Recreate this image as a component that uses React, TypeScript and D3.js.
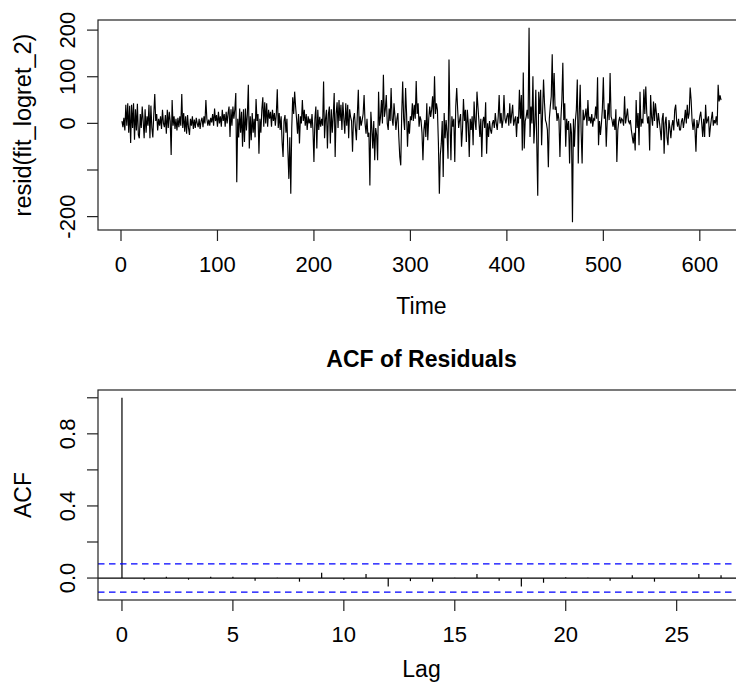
import React from "react";
import * as d3 from "d3";

// residuals of fit_logret_2 (t = 1..622)
const residuals: number[] = [
  5, -8, 12, -15, 40, -5, 43, -20, 38, -42,
  40, -10, 43, -35, 30, -15, 42, -25, -32, 20,
  -10, 36, 5, -32, 30, -20, 15, -5, 40, -32,
  38, -10, -30, 20, 63, 5, 20, -15, 10, -5,
  15, -12, 29, 0, -8, 18, -22, 29, -10, 25,
  5, -68, 50, -5, 15, -12, 10, -15, 12, -8,
  15, -5, 63, -10, 22, -18, 15, -22, 18, -10,
  -25, 10, -5, 15, -12, 8, -10, 12, 0, -8,
  10, -12, 5, 12, -8, 15, 0, 50, 10, -5,
  8, -5, 12, 2, 20, -5, 32, 5, 18, -7,
  25, 0, 15, -7, 29, 5, 20, -7, 25, 0,
  22, 36, -29, 30, -5, 36, 10, 30, 65, -126,
  10, -30, 32, -20, 25, -50, 30, -40, 32, -15,
  20, 83, -54, 15, -36, 22, -20, 10, -30, 52,
  5, 20, -65, 10, -20, 30, 56, -7, 45, 0,
  43, -7, 29, 10, 25, -7, 29, 5, 22, -5,
  20, 73, -10, 22, -14, 15, -40, -72, 5, 18,
  -20, 10, -60, -119, -30, -151, -10, 56, 20, 68,
  36, 10, -22, 20, -43, 15, 0, 50, 5, 29,
  -5, 20, -14, 15, 0, 10, -10, 20, -14, -83,
  10, 36, -54, 29, -14, 14, -7, 10, -5, 90,
  -32, 10, 29, -54, 20, 36, -43, 30, -20, 15,
  65, -72, 20, 45, -10, 50, 5, 40, -14, 45,
  10, -22, 43, -5, 40, -32, 30, 14, 5, -61,
  10, 22, -10, -36, 20, 72, -14, 15, -5, 7,
  20, 61, 0, -22, 10, -29, -20, -133, 25, -10,
  -54, 5, -79, -10, -25, -79, 68, -5, 14, 50,
  0, 104, 14, 30, 61, 0, -14, 32, 5, 76,
  10, -5, 43, 15, -14, 10, 22, -30, -72, -90,
  20, 90, 10, -14, 76, 22, -50, 5, -22, 15,
  7, 43, 5, 40, 10, 91, 20, 43, -7, 15,
  7, -20, -79, -14, 7, -29, 43, -36, 10, 36,
  14, 30, 58, 10, 101, 20, 43, 29, -40, -151,
  -68, -43, 5, -115, 22, -32, 7, -20, -76, 137,
  7, -79, 15, -7, 10, -83, 36, 76, 29, -10,
  7, 20, -50, -14, 52, 5, 29, -40, 29, 0,
  -72, 10, -14, 15, -47, 47, 5, -14, 68, 36,
  5, -29, 10, -72, 5, 14, -10, 45, -65, 0,
  -29, 5, -14, -22, 0, 7, -10, 22, 0, -14,
  14, 61, 0, 22, -10, 7, 61, 10, 0, 15,
  22, -5, 43, 0, 20, 40, -5, 7, 15, -29,
  14, 0, 72, 10, 61, -58, 109, -54, 5, 14,
  29, 10, 205, -29, 36, 0, 101, -43, 0, 72,
  -43, -155, 68, 20, 72, -47, 22, 94, 43, 7,
  0, -14, -94, 10, 36, 58, 148, 30, 108, 29,
  36, 5, 22, 7, -72, 10, 50, 130, 7, 43,
  -50, 10, -14, 5, -86, 0, -22, -212, 10, -50,
  5, 29, 94, -86, 20, 83, -20, -86, 29, 7,
  15, 32, -5, 50, 5, 14, 0, 20, -7, 10,
  7, 36, 10, 99, -47, 5, -25, 0, 32, 99,
  10, 29, -50, 5, 43, 7, 108, 15, 7, -7,
  10, -14, 30, -83, -14, 5, 14, 0, 10, 7,
  -5, 58, 0, 15, 32, 5, 0, 7, -14, -29,
  -43, -20, -58, 50, -10, 22, -47, 68, -7, 10,
  0, 73, 20, 79, 22, 0, 15, -58, 61, 14,
  -5, 47, 5, 43, 22, -10, 22, 5, -14, -36,
  10, 22, -65, 0, 14, -30, -47, 7, -10, -32,
  -5, 7, -15, 29, 40, 5, -7, 10, -14, -14,
  5, 11, -10, 7, 29, 0, 40, 10, 22, 77,
  50, 5, -14, 10, -14, -61, 7, -10, 0, 15,
  25, 0, -29, 10, -29, 40, 0, 7, 15, -29,
  -7, 10, 25, -5, 7, 0, 15, -4, 83, 47, 60, 50,
];

// ACF of residuals, lags 0..27
const acfLags: number[] = d3.range(0, 28);
const acfValues: number[] = [
  1.0, -0.009, 0.007, -0.009, 0.007, 0.007, -0.015, 0.002, -0.02, 0.03,
  -0.009, 0.022, -0.047, -0.017, -0.02, 0.001, 0.022, -0.015, -0.047, -0.026,
  0.005, 0.002, -0.015, 0.015, -0.02, 0.0, 0.022, 0.015,
];

const timeTicks = [0, 100, 200, 300, 400, 500, 600];
const residTicks = [-200, -100, 0, 100, 200];
const residLabels = [-200, 0, 100, 200];
const lagTicks = [0, 5, 10, 15, 20, 25];
const acfTicks = [0, 0.2, 0.4, 0.6, 0.8, 1.0];
const acfLabels = [0, 0.4, 0.8];

const W = 736;
const H = 689;
const FONT = "'Liberation Sans', Arial, Helvetica, sans-serif";
const AX = "#222";

// R style 4% axis expansion
const expand = ([a, b]: number[]) => {
  const d = (b - a) * 0.04;
  return [a - d, b + d];
};

const App = () => {
  const left = 98;
  const right = 745;
  const top1 = 20;
  const bot1 = 230;
  const top2 = 390;
  const bot2 = 600;
  const tick = 11;

  const n = residuals.length;
  const clim = 1.96 / Math.sqrt(n);

  const x1 = d3.scaleLinear().domain(expand([1, n])).range([left, right]);
  const y1 = d3
    .scaleLinear()
    .domain(expand(d3.extent(residuals) as number[]))
    .range([bot1, top1]);

  const line = d3
    .line<number>()
    .x((_, i) => x1(i + 1))
    .y((d) => y1(d));

  const x2 = d3
    .scaleLinear()
    .domain(expand([0, acfLags[acfLags.length - 1]]))
    .range([left, right]);
  const y2 = d3
    .scaleLinear()
    .domain(expand([Math.min(-clim, d3.min(acfValues)!), Math.max(clim, d3.max(acfValues)!)]))
    .range([bot2, top2]);

  const fmt = d3.format(".1f");

  return (
    <div style={{ position: "absolute", left: 0, top: 0 }}>
      <svg width={W} height={H} style={{ display: "block", background: "#fff" }} fontFamily={FONT}>
        <defs>
          <clipPath id="c1">
            <rect x={left} y={top1} width={right - left} height={bot1 - top1} />
          </clipPath>
          <clipPath id="c2">
            <rect x={left} y={top2} width={right - left} height={bot2 - top2} />
          </clipPath>
        </defs>

        {/* ---- residual series ---- */}
        <path d={line(residuals) ?? ""} fill="none" stroke="#000" strokeWidth={1.15} clipPath="url(#c1)" />
        <rect x={left} y={top1} width={right - left} height={bot1 - top1} fill="none" stroke={AX} strokeWidth={1.2} />

        {timeTicks.map((t) => (
          <g key={"tt" + t}>
            <line x1={x1(t)} x2={x1(t)} y1={bot1} y2={bot1 + tick} stroke={AX} strokeWidth={1.2} />
            <text x={x1(t)} y={bot1 + 42} textAnchor="middle" fontSize={22}>
              {t}
            </text>
          </g>
        ))}
        {residTicks.map((v) => (
          <line key={"rt" + v} x1={left - tick} x2={left} y1={y1(v)} y2={y1(v)} stroke={AX} strokeWidth={1.2} />
        ))}
        {residLabels.map((v) => (
          <text key={"rl" + v} transform={`translate(75,${y1(v)}) rotate(-90)`} textAnchor="middle" fontSize={22}>
            {v}
          </text>
        ))}
        <text x={(left + right) / 2} y={bot1 + 84} textAnchor="middle" fontSize={23}>
          Time
        </text>
        <text transform={`translate(31,${(top1 + bot1) / 2}) rotate(-90)`} textAnchor="middle" fontSize={23.5}>
          resid(fit_logret_2)
        </text>

        {/* ---- ACF ---- */}
        <text x={(left + right) / 2} y={top2 - 23} textAnchor="middle" fontSize={23} fontWeight="bold">
          ACF of Residuals
        </text>
        <g clipPath="url(#c2)">
          {acfLags.map((l, i) => (
            <line key={"a" + l} x1={x2(l)} x2={x2(l)} y1={y2(0)} y2={y2(acfValues[i])} stroke="#000" strokeWidth={1.2} />
          ))}
          <line x1={left} x2={right} y1={y2(0)} y2={y2(0)} stroke="#000" strokeWidth={1.2} />
          {[clim, -clim].map((c) => (
            <line key={"c" + c} x1={left} x2={right} y1={y2(c)} y2={y2(c)} stroke="#0000ff" strokeWidth={1.2} strokeDasharray="6.5,4.5" />
          ))}
        </g>
        <rect x={left} y={top2} width={right - left} height={bot2 - top2} fill="none" stroke={AX} strokeWidth={1.2} />

        {lagTicks.map((l) => (
          <g key={"lt" + l}>
            <line x1={x2(l)} x2={x2(l)} y1={bot2} y2={bot2 + tick} stroke={AX} strokeWidth={1.2} />
            <text x={x2(l)} y={bot2 + 42} textAnchor="middle" fontSize={22}>
              {l}
            </text>
          </g>
        ))}
        {acfTicks.map((v) => (
          <line key={"at" + v} x1={left - tick} x2={left} y1={y2(v)} y2={y2(v)} stroke={AX} strokeWidth={1.2} />
        ))}
        {acfLabels.map((v) => (
          <text key={"al" + v} transform={`translate(75,${y2(v)}) rotate(-90)`} textAnchor="middle" fontSize={22}>
            {fmt(v)}
          </text>
        ))}
        <text x={(left + right) / 2} y={bot2 + 77} textAnchor="middle" fontSize={23}>
          Lag
        </text>
        <text transform={`translate(31,${(top2 + bot2) / 2}) rotate(-90)`} textAnchor="middle" fontSize={23}>
          ACF
        </text>
      </svg>
    </div>
  );
};

export default App;
